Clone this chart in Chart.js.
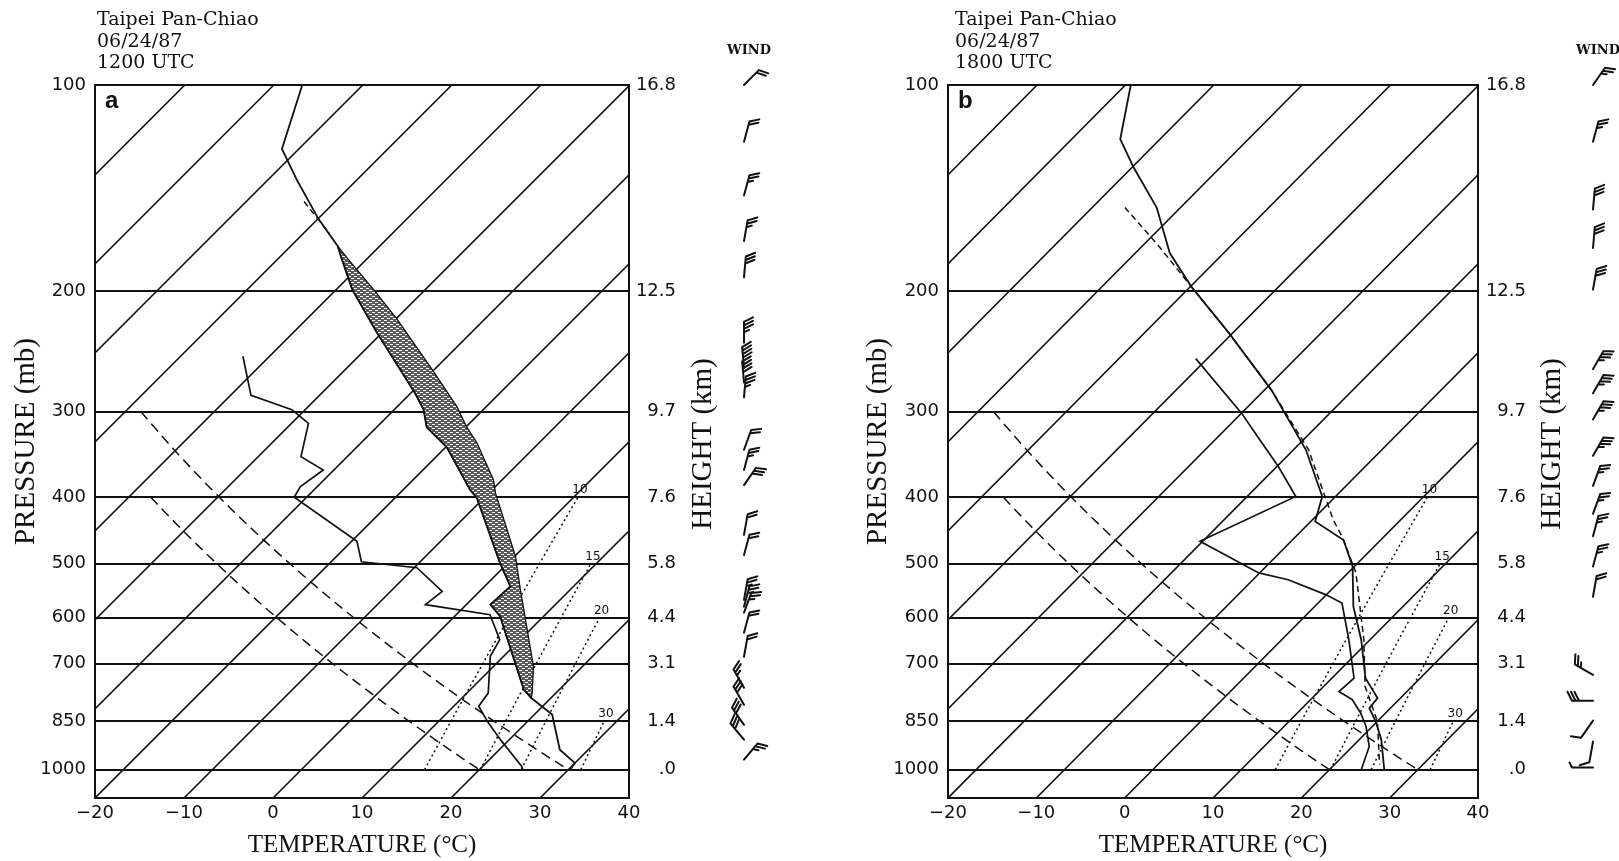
<!DOCTYPE html>
<html>
<head>
<meta charset="utf-8">
<script src="https://cdn.jsdelivr.net/npm/chart.js@4/dist/chart.umd.min.js"></script>
<style>
  html, body { margin: 0; padding: 0; background: #fff; overflow: hidden; }
  canvas { position: absolute; top: 0; }
  #skewA { left: 0; }
  #skewB { left: 810px; }
</style>
</head>
<body>
<canvas id="skewA" width="810" height="861"></canvas>
<canvas id="skewB" width="809" height="861"></canvas>
<script>
// ---- axes ----
const pressureTicks = [100, 200, 300, 400, 500, 600, 700, 850, 1000];
const heightLabels = ['16.8', '12.5', '9.7', '7.6', '5.8', '4.4', '3.1', '1.4', '.0'];
const tempTicks = [-20, -10, 0, 10, 20, 30, 40];

// ---- background lines of the diagram ----
const isotherms = [-100, -90, -80, -70, -60, -50, -40, -30, -20, -10, 0, 10, 20, 30, 40];
const adiabatTheta = [20, 30];
const adiabatTop = [400, 300];
const mixingRatios = [10, 15, 20, 30];
const mixingTop = [400, 500, 600, 850];

// ---- sounding a : 06/24/87 1200 UTC ----
const tempPresA = [100, 124, 138, 157, 172, 178, 199, 230, 282, 298, 316, 338, 368, 390, 401, 499, 540, 574, 597, 661, 764, 786, 831, 935, 978, 1000];
const tempA = [-76.8, -71.9, -66.6, -59.9, -54.7, -53.2, -48.2, -40.6, -29.5, -26.7, -24.4, -19.9, -15.5, -12.5, -10.8, -0.9, 2.9, 2.7, 5.1, 9.6, 16.0, 17.8, 22.0, 26.8, 30.0, 30.2];
const dewPresA = [249, 284, 298, 312, 349, 365, 386, 400, 464, 497, 507, 549, 574, 594, 646, 683, 773, 808, 855, 904, 989, 1000];
const dewA = [-53.0, -47.7, -41.5, -38.1, -35.2, -31.2, -31.9, -31.4, -19.4, -16.6, -9.7, -4.2, -4.6, 3.8, 7.7, 8.5, 12.4, 12.8, 15.8, 19.0, 24.4, 24.9];
const parcelPresA = [172, 179, 199, 220, 262, 295, 316, 333, 377, 395, 488, 546, 591, 707, 772, 786];
const parcelA = [-54.7, -52.3, -45.8, -39.8, -29.9, -23.3, -19.9, -17.0, -11.0, -9.2, 0.1, 4.4, 7.5, 14.5, 17.3, 17.8];
const parcelTopPresA = [148, 165];
const parcelTopA = [-63.5, -57.0];
const windPresA = [100, 121, 145, 169, 191, 238, 259, 272, 286, 341, 365, 384, 454, 486, 565, 578, 590, 631, 684, 759, 804, 860, 904, 967];
const windDirA = [45, 15, 15, 10, 5, 0, 355, 355, 5, 20, 15, 35, 10, 15, 10, 15, 20, 15, 10, 330, 330, 325, 320, 40];
const windSpdA = [20, 20, 25, 25, 30, 35, 40, 40, 35, 20, 25, 30, 20, 20, 25, 25, 25, 20, 20, 25, 30, 30, 30, 25];

// ---- sounding b : 06/24/87 1800 UTC ----
const tempPresB = [100, 120, 132, 151, 176, 197, 230, 279, 341, 399, 434, 462, 505, 578, 646, 735, 786, 813, 850, 904, 1000];
const tempB = [-79.4, -74.5, -69.8, -62.7, -56.1, -49.9, -40.5, -29.2, -18.6, -11.5, -9.5, -4.2, -0.2, 4.4, 9.0, 13.8, 17.4, 17.6, 19.8, 22.5, 26.2];
const dewPresB = [251, 302, 330, 361, 399, 464, 516, 528, 555, 571, 646, 735, 769, 790, 827, 865, 925, 1000];
const dewB = [-41.3, -29.9, -24.9, -19.8, -14.5, -20.3, -10.1, -6.0, -0.1, 2.7, 7.6, 12.5, 12.3, 14.7, 17.2, 19.3, 21.9, 23.6];
const parcelPresB = [151, 172, 197, 230, 279, 341, 375, 432, 457, 516, 646, 756, 850, 983];
const parcelB = [-66.3, -58.1, -49.9, -40.5, -29.2, -18.3, -14.0, -7.6, -4.7, 0.9, 9.3, 14.7, 20.0, 25.1];
const windPresB = [100, 121, 152, 173, 199, 260, 282, 308, 348, 385, 423, 456, 505, 559, 727, 793, 848, 910, 993];
const windDirB = [35, 15, 5, 5, 10, 30, 30, 30, 30, 20, 20, 15, 15, 10, 300, 270, 215, 190, 270];
const windSpdB = [25, 25, 30, 30, 30, 35, 35, 35, 35, 25, 25, 25, 25, 20, 25, 30, 10, 10, 5];

const INK = '#111';
const SERIF = '"Liberation Serif", "DejaVu Serif", serif';
const SKEW = 33.4;   // deg C of x shift per ln(p)
const P_BOT = 1100;

Chart.defaults.font.family = '"DejaVu Sans", sans-serif';
Chart.defaults.color = INK;

let skewX = (p, t) => t + SKEW * Math.log(P_BOT / p);
let toPoints = (pres, temps) => pres.map((p, i) => ({x: skewX(p, temps[i]), y: p}));

let mixingTd = (w, p) => {
  const e = w * p / (622 + w);
  const l = Math.log(e / 6.112);
  return 243.5 * l / (17.67 - l);
};

let line = (data, opts) => Object.assign({
  data: data, showLine: true, pointRadius: 0, borderColor: INK,
  borderWidth: 1.6, fill: false, tension: 0
}, opts);

let shadePattern = () => {
  const c = document.createElement('canvas');
  c.width = 6; c.height = 4;
  const g = c.getContext('2d');
  g.fillStyle = '#5a5a5a';
  g.fillRect(0, 0, 6, 4);
  g.fillStyle = '#fff';
  g.fillRect(0, 0, 3, 1);
  g.fillRect(3, 2, 3, 1);
  return g.createPattern(c, 'repeat');
};

let drawBarb = (ctx, x, y, dir, spd) => {
  const L = 21, F = 10, rad = dir * Math.PI / 180;
  const ux = Math.sin(rad), uy = -Math.cos(rad);
  const px = -uy, py = ux;
  ctx.beginPath();
  ctx.moveTo(x, y);
  ctx.lineTo(x + ux * L, y + uy * L);
  let d = L, left = Math.round(spd / 5) * 5;
  while (left >= 50) {
    const sx = x + ux * d, sy = y + uy * d;
    ctx.moveTo(sx, sy);
    ctx.lineTo(sx + px * F, sy + py * F);
    ctx.lineTo(x + ux * (d - 5), y + uy * (d - 5));
    left -= 50; d -= 6;
  }
  while (left >= 10) {
    const sx = x + ux * d, sy = y + uy * d;
    ctx.moveTo(sx, sy);
    ctx.lineTo(sx + px * F * 0.9 + ux * F * 0.45, sy + py * F * 0.9 + uy * F * 0.45);
    left -= 10; d -= 3.5;
  }
  if (left >= 5) {
    const sx = x + ux * d, sy = y + uy * d;
    ctx.moveTo(sx, sy);
    ctx.lineTo(sx + px * F * 0.5 + ux * F * 0.25, sy + py * F * 0.5 + uy * F * 0.25);
  }
  ctx.stroke();
};

let skewT = (id, panel) => {
  const datasets = [];
  datasets.push(line(toPoints(panel.tempPres, panel.temp), {borderWidth: 1.8}));
  datasets.push(line(toPoints(panel.dewPres, panel.dew), {borderWidth: 1.7}));
  datasets.push(line(toPoints(panel.dashPres, panel.dash), {borderWidth: 1.5, borderDash: [6, 4]}));
  if (panel.capePres) {
    // shaded area between the sounding and the lifted parcel
    const env = panel.tempPres.map((p, i) => ({p: p, t: panel.temp[i]}))
      .filter(o => o.p >= panel.capePres[0] && o.p <= panel.capePres[panel.capePres.length - 1]);
    const poly = env.map(o => ({x: skewX(o.p, o.t), y: o.p}));
    for (let i = panel.capePres.length - 1; i >= 0; i--) {
      poly.push({x: skewX(panel.capePres[i], panel.cape[i]), y: panel.capePres[i]});
    }
    datasets.push(line(poly, {borderWidth: 1.3, fill: 'shape', backgroundColor: shadePattern()}));
  }
  mixingRatios.forEach((w, i) => {
    const pts = [];
    for (let p = 1000; p >= mixingTop[i]; p -= 25) pts.push({x: skewX(p, mixingTd(w, p)), y: p});
    datasets.push(line(pts, {borderWidth: 1.5, borderDash: [2, 3]}));
  });
  adiabatTheta.forEach((th, i) => {
    const pts = [];
    for (let p = adiabatTop[i]; p <= 1000; p += 10) {
      pts.push({x: skewX(p, (th + 273.15) * Math.pow(p / 1000, 0.2857) - 273.15), y: p});
    }
    datasets.push(line(pts, {borderWidth: 1.5, borderDash: [10, 6]}));
  });
  isotherms.forEach(t => {
    datasets.push(line([{x: skewX(P_BOT, t), y: P_BOT}, {x: skewX(100, t), y: 100}], {borderWidth: 1.6}));
  });

  const decor = {
    id: 'decor',
    afterDraw(chart) {
      const {ctx, chartArea: a, scales: {x, y}} = chart;
      ctx.save();
      ctx.strokeStyle = INK;
      ctx.fillStyle = INK;
      ctx.lineWidth = 2;
      ctx.beginPath();
      ctx.moveTo(a.left - 1, a.top);
      ctx.lineTo(a.right + 1, a.top);
      ctx.stroke();

      ctx.font = '19px "DejaVu Serif"';
      ctx.textAlign = 'left';
      ctx.textBaseline = 'alphabetic';
      panel.header.forEach((s, i) => ctx.fillText(s, panel.headerX, 25 + 21.5 * i));

      ctx.font = 'bold 24px "Liberation Sans"';
      ctx.fillText(panel.letter, a.left + 10, 108);

      ctx.font = '12px "DejaVu Sans"';
      ctx.textAlign = 'center';
      mixingRatios.forEach((w, i) => {
        const p = mixingTop[i];
        ctx.fillText(String(w), x.getPixelForValue(skewX(p, mixingTd(w, p))) + 2, y.getPixelForValue(p) - 4);
      });

      ctx.font = 'bold 13px "DejaVu Serif"';
      ctx.fillText('WIND', a.right + 120, 54);

      ctx.save();
      ctx.translate(a.right + 74, 444);
      ctx.rotate(-Math.PI / 2);
      ctx.font = '29px ' + SERIF;
      ctx.textBaseline = 'middle';
      ctx.fillText('HEIGHT (km)', 0, 0);
      ctx.restore();

      ctx.lineWidth = 2;
      ctx.lineCap = 'round';
      panel.windPres.forEach((p, i) => {
        drawBarb(ctx, a.right + 115, y.getPixelForValue(p), panel.windDir[i], panel.windSpd[i]);
      });
      ctx.restore();
    }
  };

  return new Chart(document.getElementById(id), {
    type: 'scatter',
    data: {datasets: datasets},
    options: {
      responsive: false,
      animation: false,
      devicePixelRatio: 1,
      layout: {padding: {top: 85, right: panel.padRight, bottom: 0, left: 0}},
      plugins: {legend: {display: false}, tooltip: {enabled: false}},
      scales: {
        x: {
          type: 'linear', position: 'bottom', min: -20, max: 40,
          afterBuildTicks: s => { s.ticks = tempTicks.map(v => ({value: v})); },
          afterFit: s => { s.height = 63; },
          grid: {display: false, drawTicks: false},
          border: {display: true, color: INK, width: 2},
          ticks: {padding: 5, maxRotation: 0, font: {size: 18},
                  callback: v => v < 0 ? '\u2212' + (-v) : String(v)},
          title: {display: true, text: 'TEMPERATURE (°C)', font: {family: SERIF, size: 25},
                  padding: {top: 0, bottom: 1}}
        },
        y: {
          type: 'logarithmic', position: 'left', reverse: true, min: 100, max: P_BOT,
          afterBuildTicks: s => { s.ticks = pressureTicks.map(v => ({value: v})); },
          afterFit: s => { s.width = panel.leftWidth; },
          grid: {color: INK, lineWidth: 2, drawTicks: false},
          border: {display: true, color: INK, width: 2},
          ticks: {padding: 9, autoSkip: false, font: {size: 18}, callback: v => String(v)},
          title: {display: true, text: 'PRESSURE (mb)', font: {family: SERIF, size: 29},
                  padding: {top: panel.titlePad, bottom: 0}}
        },
        y2: {
          type: 'logarithmic', position: 'right', reverse: true, min: 100, max: P_BOT,
          afterBuildTicks: s => { s.ticks = pressureTicks.map(v => ({value: v})); },
          afterFit: s => { s.width = panel.rightWidth; },
          grid: {display: false, drawTicks: false},
          border: {display: true, color: INK, width: 2},
          ticks: {padding: 9, crossAlign: 'far', autoSkip: false, font: {size: 18},
                  callback: v => heightLabels[pressureTicks.indexOf(v)]}
        }
      }
    },
    plugins: [decor]
  });
};

skewT('skewA', {
  letter: 'a', header: ['Taipei Pan-Chiao', '06/24/87', '1200 UTC'], headerX: 97,
  leftWidth: 95, rightWidth: 47, padRight: 134, titlePad: 9,
  tempPres: tempPresA, temp: tempA, dewPres: dewPresA, dew: dewA,
  dashPres: parcelTopPresA, dash: parcelTopA,
  capePres: parcelPresA, cape: parcelA,
  windPres: windPresA, windDir: windDirA, windSpd: windSpdA
});

skewT('skewB', {
  letter: 'b', header: ['Taipei Pan-Chiao', '06/24/87', '1800 UTC'], headerX: 145,
  leftWidth: 138, rightWidth: 48, padRight: 93, titlePad: 51,
  tempPres: tempPresB, temp: tempB, dewPres: dewPresB, dew: dewB,
  dashPres: parcelPresB, dash: parcelB,
  windPres: windPresB, windDir: windDirB, windSpd: windSpdB
});
</script>
</body>
</html>
